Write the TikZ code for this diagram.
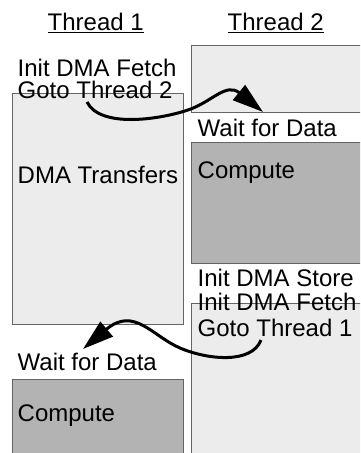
\documentclass[tikz,border=0pt]{standalone}
\usepackage{fontspec}
\setmainfont{Liberation Sans}
\usetikzlibrary{arrows.meta}
\definecolor{lightbox}{RGB}{236,236,236}
\definecolor{darkbox}{RGB}{179,179,179}
\definecolor{edgegray}{RGB}{100,100,100}
\begin{document}
\begin{tikzpicture}[x=1pt,y=-1pt,
  lbl/.style={anchor=base west,inner sep=0pt,text=black,font=\fontsize{24}{28}\selectfont},
  lightpanel/.style={fill=lightbox,draw=edgegray,line width=0.9pt},
  darkpanel/.style={fill=darkbox,draw=edgegray,line width=0.9pt},
  flow/.style={line width=3pt,-{Triangle[length=31pt,width=19pt]}}]
\useasboundingbox (0,0) rectangle (360,453);
\clip (0,0) rectangle (360,453);
\fill[white] (0,0) rectangle (360,453);
% panels
\path[lightpanel] (191,45) rectangle (380,112);
\path[darkpanel] (191,142) rectangle (380,263);
\path[lightpanel] (191,303) rectangle (380,470);
\path[lightpanel] (12,93) rectangle (183,324);
\path[darkpanel] (12,379) rectangle (183,470);
% headers
\node[lbl] (h1) at (47.5,30) {Thread 1};
\node[lbl] (h2) at (227.5,30) {Thread 2};
\draw[line width=0.9pt] ([yshift=-2.5pt]h1.base west) -- ([yshift=-2.5pt]h1.base east);
\draw[line width=0.9pt] ([yshift=-2.5pt]h2.base west) -- ([yshift=-2.5pt]h2.base east);
% thread 1 texts
\node[lbl] (t1a) at (17.5,76) {Init DMA Fetch};
\node[lbl] (t1b) at (17.5,98) {Goto Thread 2};
\node[lbl] (t1c) at (17.5,183) {DMA Transfers};
\node[lbl] (t1d) at (17.5,370) {Wait for Data};
\node[lbl] (t1e) at (17.5,421) {Compute};
% thread 2 texts
\node[lbl] (t2a) at (197.5,136) {Wait for Data};
\node[lbl] (t2b) at (197.5,178) {Compute};
\node[lbl] (t2c) at (197.5,286) {Init DMA Store};
\node[lbl] (t2d) at (197.5,310) {Init DMA Fetch};
\node[lbl] (t2e) at (197.5,336) {Goto Thread 1};
% arrows
\coordinate (s1) at (87,102);
\coordinate (m1) at (188,110);
\coordinate (e1) at (263,112);
\coordinate (s2) at (261,340);
\coordinate (m2) at (180,348);
\coordinate (e2) at (83,349);
\draw[flow] (s1) .. controls (100,128) and (158,120) .. (m1) .. controls (212,102) and (226,82) .. (e1);
\draw[flow] (s2) .. controls (252,364) and (208,360) .. (m2) .. controls (152,336) and (134,306) .. (e2);
\end{tikzpicture}
\end{document}
